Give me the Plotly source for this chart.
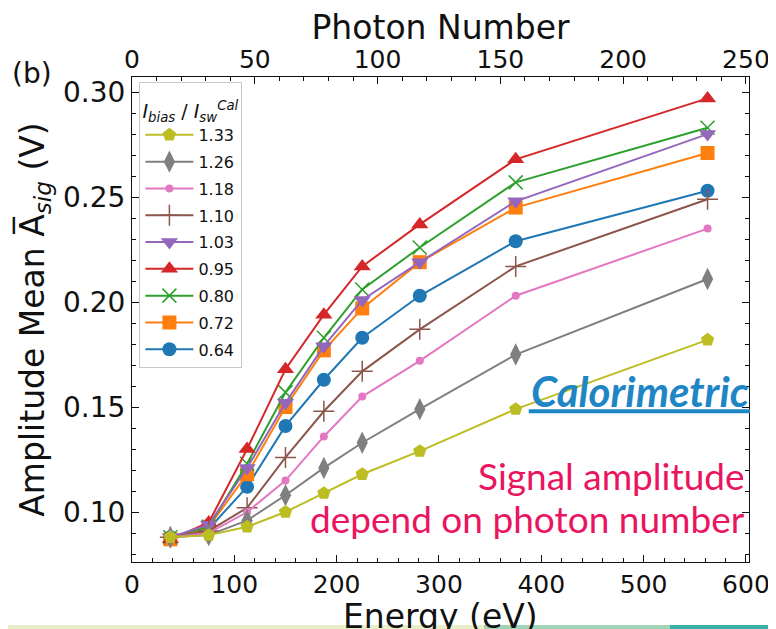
import plotly.graph_objects as go

# ---------------- data ----------------
energy_eV = [37.5, 75, 112.5, 150, 187.5, 225, 281.25, 375, 562.5]

labels = ["0.64", "0.72", "0.80", "0.95", "1.03", "1.10", "1.18", "1.26", "1.33"]
amp_064 = [0.088, 0.092, 0.112, 0.141, 0.163, 0.183, 0.203, 0.229, 0.253]
amp_072 = [0.087, 0.093, 0.118, 0.150, 0.177, 0.197, 0.219, 0.245, 0.271]
amp_080 = [0.088, 0.093, 0.123, 0.157, 0.183, 0.206, 0.226, 0.257, 0.283]
amp_095 = [0.087, 0.095, 0.130, 0.168, 0.194, 0.217, 0.237, 0.268, 0.297]
amp_103 = [0.088, 0.094, 0.121, 0.152, 0.179, 0.201, 0.219, 0.248, 0.280]
amp_110 = [0.088, 0.091, 0.102, 0.126, 0.148, 0.167, 0.187, 0.217, 0.249]
amp_118 = [0.088, 0.090, 0.100, 0.115, 0.136, 0.155, 0.172, 0.203, 0.235]
amp_126 = [0.088, 0.089, 0.096, 0.108, 0.121, 0.133, 0.149, 0.175, 0.211]
amp_133 = [0.088, 0.089, 0.093, 0.100, 0.109, 0.118, 0.129, 0.149, 0.182]
series = [amp_064, amp_072, amp_080, amp_095, amp_103, amp_110, amp_118, amp_126, amp_133]

x_range = [0, 603]
eV_per_photon = 2.4
y_range = [0.0762, 0.3072]

# ---------------- styles ----------------
colors = ["#1f77b4", "#ff7f0e", "#2ca02c", "#d62728", "#9467bd",
          "#8c564b", "#e377c2", "#7f7f7f", "#bcbd22"]
symbols = ["circle", "square", "x-thin", "triangle-up", "triangle-down",
           "cross-thin", "circle", "diamond-tall", "pentagon"]
sizes = [14, 14, 14, 15, 15, 15, 8, 16, 14]

fig = go.Figure()
n = len(labels)
for i, (lab, ys, c, s, sz) in enumerate(zip(labels, series, colors, symbols, sizes)):
    thin = s.endswith("-thin")
    fig.add_trace(go.Scatter(
        x=energy_eV, y=ys, mode="lines+markers", name=lab,
        legendgroup=lab, legendrank=n - i,
        line=dict(color=c, width=2),
        marker=dict(symbol=s, size=sz, color=c,
                    line=dict(color=c, width=1.5 if thin else 0)),
    ))

# dummy trace for top axis
fig.add_trace(go.Scatter(x=[0], y=[None], xaxis="x2", showlegend=False,
                         hoverinfo="skip", mode="markers"))

xtickfont = dict(family="DejaVu Sans", size=25, color="#111111")
ytickfont = dict(family="DejaVu Sans", size=28, color="#111111")
titlefont = dict(family="DejaVu Sans", size=33, color="#111111")

legend_title = ('<span style="font-size:19px"><i>I</i><sub><i>bias</i></sub> / '
                '<i>I</i><sub><i>sw</i></sub><sup><i>Cal</i></sup></span>')

fig.update_layout(
    width=768, height=621,
    margin=dict(l=124, r=27, t=69, b=67),
    paper_bgcolor="white", plot_bgcolor="white",
    showlegend=True,
    xaxis=dict(
        range=x_range, dtick=100, tick0=0, automargin=False,
        ticks="inside", ticklen=7, tickwidth=1.2, tickcolor="#111",
        showline=True, linecolor="#111", linewidth=1.2, mirror=False,
        showgrid=False, zeroline=False,
        tickfont=xtickfont,
        minor=dict(dtick=20, ticks="inside", ticklen=4, tickcolor="#111", showgrid=False),
    ),
    xaxis2=dict(
        range=[x_range[0] / eV_per_photon, x_range[1] / eV_per_photon],
        overlaying="x", side="top", anchor="y", automargin=False,
        dtick=50, tick0=0,
        ticks="inside", ticklen=7, tickwidth=1.2, tickcolor="#111",
        showline=True, linecolor="#111", linewidth=1.2,
        showgrid=False, zeroline=False,
        tickfont=xtickfont, ticklabelstandoff=-2,
        title=dict(text="Photon Number", font=titlefont, standoff=0),
        minor=dict(dtick=10, ticks="inside", ticklen=4, tickcolor="#111", showgrid=False),
    ),
    yaxis=dict(
        range=y_range, dtick=0.05, tick0=0.1, tickformat=".2f", automargin=False,
        ticks="inside", ticklen=7, tickwidth=1.2, tickcolor="#111",
        showline=True, linecolor="#111", linewidth=1.2, mirror="ticks",
        showgrid=False, zeroline=False,
        tickfont=ytickfont,
        title=dict(text="Amplitude Mean A\u0305<sub><i>sig</i></sub> (V)",
                   font=titlefont, standoff=8),
        minor=dict(dtick=0.01, ticks="inside", ticklen=4, tickcolor="#111", showgrid=False),
    ),
    legend=dict(
        x=0.012, y=0.99, xanchor="left", yanchor="top",
        bgcolor="rgba(255,255,255,0.8)", bordercolor="#c8c8c8", borderwidth=1,
        font=dict(family="DejaVu Sans", size=16, color="#111"),
        title=dict(text=legend_title,
                   font=dict(family="DejaVu Sans", size=27, color="#111"), side="top"),
        traceorder="grouped", tracegroupgap=3, itemwidth=48,
    ),
    annotations=[
        dict(text="Energy (eV)", xref="paper", yref="paper", x=0.5, y=-0.068,
             xanchor="center", yanchor="top", showarrow=False,
             font=titlefont),
        dict(text="(b)", xref="paper", yref="paper", x=-0.198, y=1.008,
             xanchor="left", yanchor="middle", showarrow=False,
             font=dict(family="DejaVu Sans", size=28, color="#111")),
        dict(text="<b><i>Calorimetric</i></b>", xref="paper", yref="paper",
             x=1.003, y=0.352, xanchor="right", yanchor="middle", showarrow=False,
             font=dict(family="Lato", size=42, color="#1f86c6")),
        dict(text="Signal amplitude", xref="paper", yref="paper",
             x=0.996, y=0.179, xanchor="right", yanchor="middle", showarrow=False,
             font=dict(family="Lato", size=37, color="#ea1560")),
        dict(text="depend on photon number", xref="paper", yref="paper",
             x=0.996, y=0.0906, xanchor="right", yanchor="middle", showarrow=False,
             font=dict(family="Lato", size=37, color="#ea1560")),
    ],
    shapes=[
        dict(type="line", xref="paper", yref="paper", x0=0.643, x1=1.0016,
             y0=0.311, y1=0.311, line=dict(color="#1f86c6", width=4)),
        dict(type="rect", xref="paper", yref="paper", x0=-0.22, x1=0.5705,
             y0=-0.138, y1=-0.130, line=dict(width=0), fillcolor="#e6efc8", layer="above"),
        dict(type="rect", xref="paper", yref="paper", x0=0.5705, x1=0.872,
             y0=-0.138, y1=-0.130, line=dict(width=0), fillcolor="#9fd4b4", layer="above"),
        dict(type="rect", xref="paper", yref="paper", x0=0.872, x1=1.05,
             y0=-0.138, y1=-0.130, line=dict(width=0), fillcolor="#3aaea8", layer="above"),
    ],
)

fig.write_html("out.html")
